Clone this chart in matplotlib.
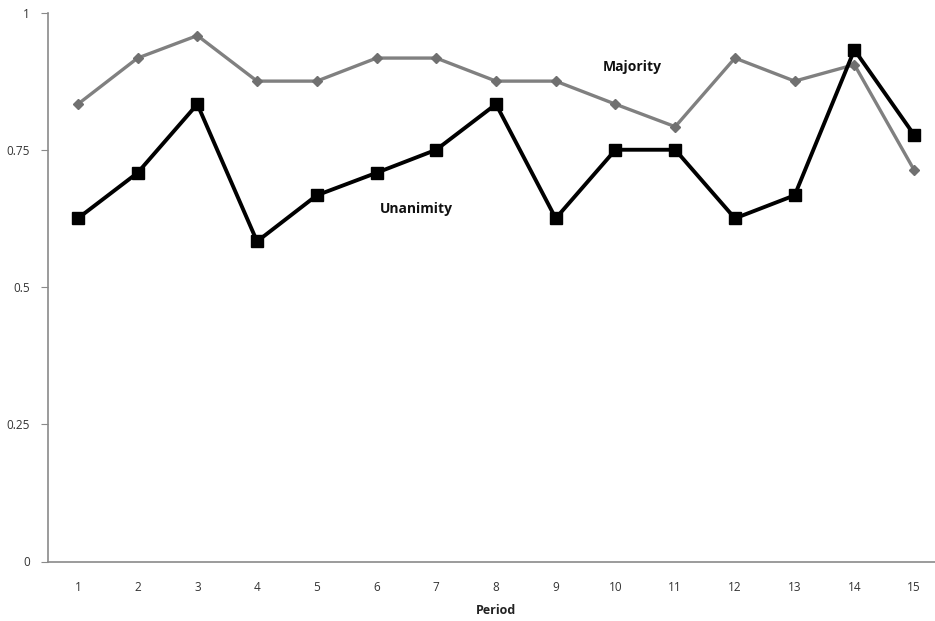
import matplotlib
matplotlib.use("Agg")
import matplotlib.pyplot as plt

periods = list(range(1, 16))
majority = [0.833, 0.917, 0.958, 0.875, 0.875, 0.917, 0.917, 0.875, 0.875, 0.833, 0.792, 0.917, 0.875, 0.905, 0.713]
unanimity = [0.625, 0.708, 0.833, 0.583, 0.667, 0.708, 0.75, 0.833, 0.625, 0.75, 0.75, 0.625, 0.667, 0.932, 0.777]
yticks = [0, 0.25, 0.5, 0.75, 1]
ytick_labels = ["0", "0.25", "0.5", "0.75", "1"]

plt.rcParams['font.family'] = ['Open Sans', 'DejaVu Sans']

W, H = 935, 621
fig = plt.figure(figsize=(W / 100, H / 100), dpi=100)
ax = fig.add_axes([48 / W, (H - 561.5) / H, 896 / W, 549 / H])

ax.plot(periods, majority, color='#808080', lw=2.4, marker='D', markersize=5.5,
        markerfacecolor='#707070', markeredgecolor='#707070', zorder=3)
ax.plot(periods, unanimity, color='black', lw=2.8, marker='s', markersize=8.5, zorder=4)

ax.set_xlim(0.5, 15.5)
ax.set_ylim(0, 1)
ax.set_xticks(periods)
ax.set_xticklabels([str(p) for p in periods])
ax.set_yticks(yticks)
ax.set_yticklabels(ytick_labels)

for s in ['top', 'right']:
    ax.spines[s].set_visible(False)
for s in ['left', 'bottom']:
    ax.spines[s].set_color('#8a8a8a')
    ax.spines[s].set_linewidth(1.2)

ax.tick_params(axis='y', length=5, color='#8a8a8a', labelsize=8.5, labelcolor='#333333', pad=8)
ax.tick_params(axis='x', length=0, labelsize=8.5, labelcolor='#333333', pad=14)

ax.set_xlabel('Period', fontsize=9, fontweight='bold', color='#222222', labelpad=7)

ax.text(10.28, 0.901, 'Majority', fontsize=10, fontweight='bold', ha='center', va='center', color='#111111')
ax.text(6.66, 0.642, 'Unanimity', fontsize=10, fontweight='bold', ha='center', va='center', color='#111111')

fig.savefig('out.png', dpi=100)
